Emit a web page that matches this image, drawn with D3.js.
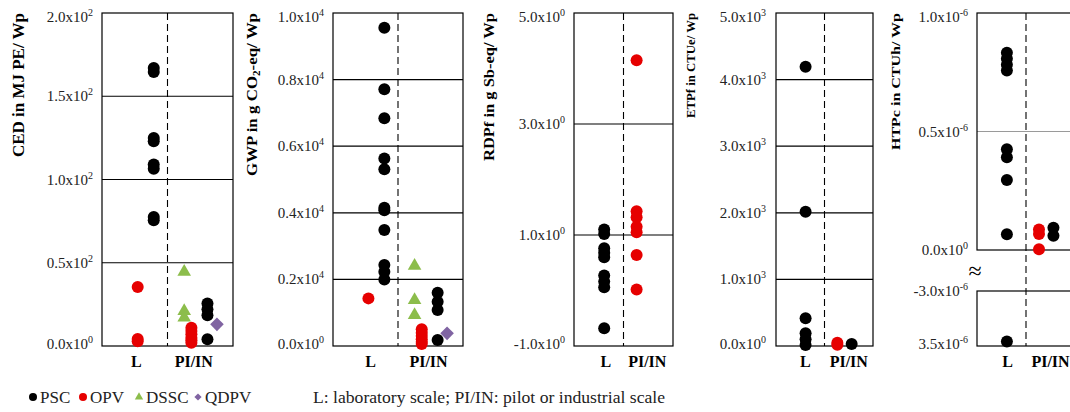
<!DOCTYPE html>
<html>
<head>
<meta charset="utf-8">
<script src="https://cdn.jsdelivr.net/npm/d3@7"></script>
<style>
  body { margin: 0; background: #fff; }
  svg { display: block; font-family: "Liberation Serif", "Times New Roman", serif; }
</style>
</head>
<body>
<div id="chart"></div>
<script>
// ---- data ----
const groups = ["L", "PI/IN"];
const seriesNames = ["PSC", "OPV", "DSSC", "QDPV"];

// CED in MJ PE / Wp
const cedTicks = [0, 50, 100, 150, 200];
const cedTickLabels = [["0.0", "0"], ["0.5", "2"], ["1.0", "2"], ["1.5", "2"], ["2.0", "2"]];
const cedPscL = [167, 164.5, 125, 123, 109, 106.5, 77.5, 75.5];
const cedOpvL = [35.5, 4.2, 2.8];
const cedDsscPI = [44.5, 21, 17];
const cedOpvPI = [11, 9, 7, 5, 3.5, 2];
const cedPscPI = [25.5, 22, 18.5, 4];
const cedQdpvPI = [13];

// GWP in g CO2-eq / Wp
const gwpTicks = [0, 2000, 4000, 6000, 8000, 10000];
const gwpTickLabels = [["0.0", "0"], ["0.2", "4"], ["0.4", "4"], ["0.6", "4"], ["0.8", "4"], ["1.0", "4"]];
const gwpPscL = [9560, 7710, 6840, 5630, 5310, 4150, 4080, 3480, 2430, 2230, 2000];
const gwpOpvL = [1430];
const gwpDsscPI = [2410, 1380, 930];
const gwpOpvPI = [500, 400, 300, 200, 120, 60];
const gwpPscPI = [1600, 1330, 1080, 180];
const gwpQdpvPI = [380];

// RDPf in g Sb-eq / Wp
const rdpTicks = [-1, 1, 3, 5];
const rdpTickLabels = [["-1.0", "0"], ["1.0", "0"], ["3.0", "0"], ["5.0", "0"]];
const rdpPscL = [1.10, 1.02, 0.76, 0.68, 0.60, 0.27, 0.16, 0.06, -0.68];
const rdpOpvPI = [4.15, 1.43, 1.32, 1.15, 1.05, 0.64, 0.02];

// ETPf in CTUe / Wp
const etpTicks = [0, 1000, 2000, 3000, 4000, 5000];
const etpTickLabels = [["0.0", "0"], ["1.0", "3"], ["2.0", "3"], ["3.0", "3"], ["4.0", "3"], ["5.0", "3"]];
const etpPscL = [4194, 2017, 416, 190, 100, 15];
const etpOpvPI = [50, 20];
const etpPscPI = [30];

// HTPc in CTUh / Wp (broken axis)
const htpUpperTicks = [0, 0.5e-6, 1e-6];
const htpUpperLabels = [["0.0", "0"], ["0.5", "-6"], ["1.0", "-6"]];
const htpLowerTicks = [-3.5e-6, -3e-6];
const htpLowerLabels = [["3.5", "-6"], ["-3.0", "-6"]];
const htpPscL = [0.832e-6, 0.807e-6, 0.782e-6, 0.757e-6, 0.425e-6, 0.391e-6, 0.295e-6, 0.066e-6, -3.46e-6];
const htpOpvPI = [0.087e-6, 0.067e-6, 0.003e-6];
const htpPscPI = [0.094e-6, 0.06e-6];

// legend
const legendNames = ["PSC", "OPV", "DSSC", "QDPV"];
const scaleNote = "L: laboratory scale; PI/IN: pilot or industrial scale";

// ---- styling / layout ----
const W = 1070, H = 412;
const plotTop = 13, plotBottom = 346;
const colors = { PSC: "#000000", OPV: "#e60000", DSSC: "#8cbd4b", QDPV: "#8064a2" };

// sideways offset of each series inside its group, as a share of the band
const wideOffsets = { "L": { PSC: 0.29, OPV: 0.045 }, "PI/IN": { DSSC: -0.245, OPV: -0.135, PSC: 0.11, QDPV: 0.255 } };
const narrowOffsets = { "L": { PSC: 0.11 }, "PI/IN": { OPV: -0.235, PSC: 0.06 } };

const panels = [
  {
    title: [["CED in MJ PE/ Wp"]],
    segments: [{ domain: [0, 200], range: [plotBottom, plotTop], ticks: cedTicks, labels: cedTickLabels, grid: "#000" }],
    data: { "L": { PSC: cedPscL, OPV: cedOpvL }, "PI/IN": { PSC: cedPscPI, OPV: cedOpvPI, DSSC: cedDsscPI, QDPV: cedQdpvPI } },
    left: 102, right: 233, gap: 9, titleX: 24, titleLen: 144, titleSize: 16, offsets: wideOffsets,
    labelDx: { "L": 1.5, "PI/IN": -6.5 }
  },
  {
    title: [["GWP in g CO"], ["2", "sub"], ["-eq/ Wp"]],
    segments: [{ domain: [0, 10000], range: [plotBottom, plotTop], ticks: gwpTicks, labels: gwpTickLabels, grid: "#000" }],
    data: { "L": { PSC: gwpPscL, OPV: gwpOpvL }, "PI/IN": { PSC: gwpPscPI, OPV: gwpOpvPI, DSSC: gwpDsscPI, QDPV: gwpQdpvPI } },
    left: 333, right: 463, gap: 9, titleX: 257, titleLen: 163, titleSize: 15, offsets: wideOffsets,
    labelDx: { "L": 5, "PI/IN": -2 }
  },
  {
    title: [["RDPf in g Sb-eq/ Wp"]],
    segments: [{ domain: [-1, 5], range: [plotBottom, plotTop], ticks: rdpTicks, labels: rdpTickLabels, grid: "#000" }],
    data: { "L": { PSC: rdpPscL }, "PI/IN": { OPV: rdpOpvPI } },
    left: 574, right: 673, gap: 9, titleX: 494, titleLen: 148, titleSize: 14, offsets: narrowOffsets,
    labelDx: { "L": 7, "PI/IN": -1 }
  },
  {
    title: [["ETPf in CTUe/ Wp"]],
    segments: [{ domain: [0, 5000], range: [plotBottom, plotTop], ticks: etpTicks, labels: etpTickLabels, grid: "#000" }],
    data: { "L": { PSC: etpPscL }, "PI/IN": { PSC: etpPscPI, OPV: etpOpvPI } },
    left: 776, right: 873, gap: 10, titleX: 695, titleLen: 105, titleSize: 13, offsets: narrowOffsets,
    labelDx: { "L": 5, "PI/IN": 0 }
  },
  {
    title: [["HTPc in CTUh/ Wp"]],
    segments: [
      { domain: [0, 1e-6], range: [250, plotTop], ticks: htpUpperTicks, labels: htpUpperLabels, grid: "#9a9a9a" },
      { domain: [-3.5e-6, -3e-6], range: [plotBottom, 291], ticks: htpLowerTicks, labels: htpLowerLabels, grid: "#000" }
    ],
    data: { "L": { PSC: htpPscL }, "PI/IN": { PSC: htpPscPI, OPV: htpOpvPI } },
    left: 977, right: 1075, gap: 9, titleX: 900, titleLen: 137, titleSize: 13, offsets: narrowOffsets,
    labelDx: { "L": 6, "PI/IN": 0 },
    breakMark: true
  }
];

const svg = d3.select("#chart").append("svg")
  .attr("width", W)
  .attr("height", H);

const triangle = d3.symbol(d3.symbolTriangle, 80);
const diamond = d3.symbol(d3.symbolSquare, 92);

function drawMarker(g, series, cx, cy) {
  if (series === "DSSC") {
    g.append("path").attr("d", triangle()).attr("transform", `translate(${cx},${cy})`).attr("fill", colors[series]);
  } else if (series === "QDPV") {
    g.append("path").attr("d", diamond()).attr("transform", `translate(${cx},${cy}) rotate(45)`).attr("fill", colors[series]);
  } else {
    g.append("circle").attr("cx", cx).attr("cy", cy).attr("r", 6).attr("fill", colors[series]);
  }
}

panels.forEach(function (p) {
  const g = svg.append("g");
  const x = d3.scaleBand().domain(groups).range([p.left, p.right]);
  const segs = p.segments.map(s => Object.assign({}, s, { scale: d3.scaleLinear().domain(s.domain).range(s.range) }));

  segs.forEach(function (s) {
    const yTop = s.range[1], yBot = s.range[0];
    // inner gridlines
    s.ticks.forEach(function (t) {
      const yy = s.scale(t);
      if (yy > yTop + 0.5 && yy < yBot - 0.5) {
        g.append("line").attr("x1", p.left).attr("x2", p.right).attr("y1", yy).attr("y2", yy)
          .attr("stroke", s.grid).attr("stroke-width", 1.2);
      }
    });
    // frame
    g.append("rect").attr("x", p.left).attr("y", yTop).attr("width", p.right - p.left).attr("height", yBot - yTop)
      .attr("fill", "none").attr("stroke", "#000").attr("stroke-width", 1.2);

    // tick labels
    s.ticks.forEach(function (t, i) {
      const yy = Math.max(plotTop + 4, Math.min(plotBottom - 2, s.scale(t)));
      const lab = s.labels[i];
      const txt = g.append("text")
        .attr("x", p.left - p.gap).attr("y", yy)
        .attr("text-anchor", "end").attr("dominant-baseline", "central")
        .attr("font-size", 15).attr("fill", "#222");
      txt.append("tspan").text(lab[0] + "x10");
      txt.append("tspan").attr("font-size", 10).attr("dy", -5).text(lab[1]);
    });
  });

  // dashed divider between L and PI/IN
  const dx = x("PI/IN");
  g.append("line").attr("x1", dx).attr("x2", dx).attr("y1", plotTop).attr("y2", plotBottom)
    .attr("stroke", "#000").attr("stroke-width", 1.1).attr("stroke-dasharray", "7,4");

  if (p.breakMark) {
    g.append("text").attr("x", p.left - 2).attr("y", 279).attr("text-anchor", "middle")
      .attr("font-size", 24).text("\u2248");
  }

  // points
  groups.forEach(function (grp) {
    seriesNames.forEach(function (sn) {
      const vals = p.data[grp][sn];
      if (!vals) return;
      const cx = x(grp) + x.bandwidth() / 2 + p.offsets[grp][sn] * x.bandwidth();
      vals.forEach(function (v) {
        const s = segs.find(s => v >= s.domain[0] && v <= s.domain[1]);
        drawMarker(g, sn, cx, s.scale(v));
      });
    });
  });

  // group labels
  groups.forEach(function (grp) {
    g.append("text").attr("x", x(grp) + x.bandwidth() / 2 + p.labelDx[grp]).attr("y", 367)
      .attr("text-anchor", "middle").attr("font-size", 16).attr("font-weight", "bold").text(grp);
  });

  // axis title, reading upwards from the top of the frame
  const tt = g.append("text")
    .attr("transform", `translate(${p.titleX},${plotTop}) rotate(-90)`)
    .attr("text-anchor", "end").attr("font-weight", "bold").attr("font-size", p.titleSize)
    .attr("textLength", p.titleLen).attr("lengthAdjust", "spacingAndGlyphs");
  p.title.forEach(function (part, i) {
    const ts = tt.append("tspan").text(part[0]);
    if (part[1] === "sub") ts.attr("font-size", p.titleSize * 0.65).attr("dy", 3);
    else if (i > 0) ts.attr("dy", -3);
  });
});

// legend
const legendPos = { PSC: [33, 40], OPV: [83, 90], DSSC: [139, 146], QDPV: [198, 205] };
const lg = svg.append("g");
const ly = 397;
legendNames.forEach(function (name) {
  const [sx, tx] = legendPos[name];
  if (name === "DSSC") {
    lg.append("path").attr("d", d3.symbol(d3.symbolTriangle, 30)()).attr("transform", `translate(${sx},${ly})`).attr("fill", colors[name]);
  } else if (name === "QDPV") {
    lg.append("path").attr("d", d3.symbol(d3.symbolSquare, 26)()).attr("transform", `translate(${sx},${ly}) rotate(45)`).attr("fill", colors[name]);
  } else {
    lg.append("circle").attr("cx", sx).attr("cy", ly).attr("r", 4).attr("fill", colors[name]);
  }
  lg.append("text").attr("x", tx).attr("y", ly + 6).attr("font-size", 17).attr("fill", "#222").text(name);
});
lg.append("text").attr("x", 313).attr("y", ly + 6).attr("font-size", 17).attr("fill", "#222")
  .attr("textLength", 352).attr("lengthAdjust", "spacingAndGlyphs")
  .text(scaleNote);
</script>
</body>
</html>
